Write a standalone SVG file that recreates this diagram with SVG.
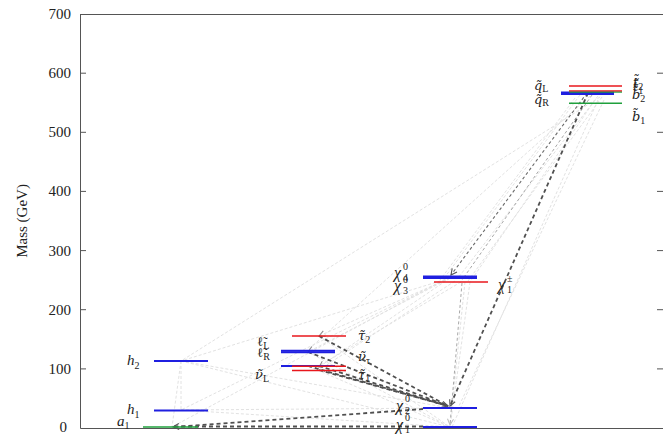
<svg xmlns="http://www.w3.org/2000/svg" width="663" height="434" viewBox="0 0 663 434">
<defs>
<marker id="ad" markerUnits="userSpaceOnUse" markerWidth="10" markerHeight="10" refX="7" refY="4" orient="auto">
<path d="M1,1 L7,4 L1,7" fill="none" stroke="#555" stroke-width="1.1"/>
</marker>
<marker id="am" markerUnits="userSpaceOnUse" markerWidth="10" markerHeight="10" refX="7" refY="4" orient="auto">
<path d="M1,1 L7,4 L1,7" fill="none" stroke="#888" stroke-width="1"/>
</marker>
<marker id="af" markerUnits="userSpaceOnUse" markerWidth="10" markerHeight="10" refX="7" refY="4" orient="auto">
<path d="M1,1 L7,4 L1,7" fill="none" stroke="#bbb" stroke-width="1"/>
</marker>
</defs>
<style>
.ax{stroke:#555;stroke-width:1;fill:none}
.tk{font-family:"Liberation Serif","DejaVu Serif",serif;font-size:15px;fill:#222;text-anchor:end}
.yl{font-family:"Liberation Serif","DejaVu Serif",serif;font-size:15px;fill:#222;text-anchor:middle}
.lb{font-family:"Liberation Serif","DejaVu Serif",serif;font-size:15px;font-style:italic;fill:#222}
.tw{font-family:"DejaVu Serif",serif;font-size:13px;font-style:italic;fill:#222}
.up{font-style:normal}
.ch{font-size:16px}
.sb{font-family:"Liberation Serif","DejaVu Serif",serif;font-size:10px;font-style:normal;fill:#222}
.b{stroke:#1f1fe0;stroke-width:2}
.r{stroke:#e8171c;stroke-width:1.6}
.g{stroke:#1fa03c;stroke-width:1.6}
.cs{stroke:#505050;stroke-width:1.8;stroke-dasharray:4 3;fill:none}
.cm{stroke:#6a6a6a;stroke-width:1.1;stroke-dasharray:3 2.5;fill:none}
.cl{stroke:#a8a8a8;stroke-width:1;stroke-dasharray:3 2.5;fill:none}
.cf{stroke:#e2e2e2;stroke-width:1;stroke-dasharray:3 2;fill:none}
</style>

<g id="axes">
<path class="ax" d="M80.5,14 V428.5 H663 M80,14.5 H663"/>
<path class="ax" d="M80,368.9 h6 M80,309.7 h6 M80,250.6 h6 M80,191.4 h6 M80,132.3 h6 M80,73.2 h6 M657,368.9 h6 M657,309.7 h6 M657,250.6 h6 M657,191.4 h6 M657,132.3 h6 M657,73.2 h6"/>
<text class="tk" x="67" y="432">0</text>
<text class="tk" x="71" y="374">100</text>
<text class="tk" x="71" y="315">200</text>
<text class="tk" x="71" y="256">300</text>
<text class="tk" x="71" y="196">400</text>
<text class="tk" x="71" y="137">500</text>
<text class="tk" x="71" y="78">600</text>
<text class="tk" x="71" y="19">700</text>
<text class="yl" transform="translate(27,221) rotate(-90)">Mass (GeV)</text>
</g>

<g id="connectors">
<path class="cf" d="M600,97 L181,361"/>
<path class="cf" d="M590,96 L308,350"/>
<path class="cf" d="M580,95 L445,277"/>
<path class="cf" d="M598,96 L458,278"/>
<path class="cf" d="M602,97 L468,281"/>
<path class="cf" d="M595,100 L470,282"/>
<path class="cf" d="M598,100 L452,427"/>
<path class="cf" d="M604,100 L458,408"/>
<path class="cf" d="M575,98 L440,280"/>
<path class="cf" d="M450,278 L181,361"/>
<path class="cf" d="M445,280 L181,410"/>
<path class="cf" d="M440,282 L172,427"/>
<path class="cf" d="M455,281 L319,370"/>
<path class="cf" d="M461,282 L319,366"/>
<path class="cf" d="M181,361 L172,427"/>
<path class="cf" d="M181,361 L181,410"/>
<path class="cf" d="M181,361 L450,408"/>
<path class="cf" d="M181,361 L450,427"/>
<path class="cf" d="M181,410 L450,427"/>
<path class="cf" d="M181,410 L450,408"/>
<path class="cf" d="M319,336 L450,427"/>
<path class="cf" d="M308,352 L450,427"/>
<path class="cf" d="M308,366 L450,427"/>
<path class="cf" d="M470,282 L450,427"/>
<path class="cf" d="M465,282 L452,406"/>
<path class="cf" d="M450,278 L319,336" marker-end="url(#am)"/>
<path class="cf" d="M450,278 L308,352" marker-end="url(#am)"/>
<path class="cf" d="M450,278 L319,367" marker-end="url(#am)"/>
<path class="cl" d="M592,95 L462,280"/>
<path class="cl" d="M462,283 L450,425" marker-end="url(#af)"/>
<path class="cm" d="M587,93 L451,275" marker-end="url(#ad)"/>
<path class="cs" d="M588,93 L450,406" marker-end="url(#ad)"/>
<path class="cs" d="M319,336 L448,406"/>
<path class="cs" d="M308,352 L448,406"/>
<path class="cs" d="M319,366 L448,406"/>
<path class="cs" d="M319,370 L448,406"/>
<path class="cs" d="M308,366 L448,406" marker-end="url(#ad)"/>
<path class="cs" d="M423,409 L173,427" marker-end="url(#ad)"/>
<path class="cs" d="M423,426.5 L173,426.5"/>
</g>

<g id="a1"><line class="g" x1="143" y1="427" x2="198" y2="427"/><text class="lb" x="117" y="426">a<tspan class="sb" dy="3">1</tspan></text></g>
<g id="h1"><line class="b" x1="154" y1="410.5" x2="208" y2="410.5"/><text class="lb" x="127" y="414">h<tspan class="sb" dy="4">1</tspan></text></g>
<g id="h2"><line class="b" x1="154" y1="361" x2="208" y2="361"/><text class="lb" x="127" y="365">h<tspan class="sb" dy="4">2</tspan></text></g>

<g id="slepL"><line class="b" x1="281" y1="350.8" x2="335" y2="350.8"/><text class="tw up" x="257" y="346">ℓ̃<tspan class="sb" dy="3">L</tspan></text></g>
<g id="slepR"><line class="b" x1="281" y1="352.2" x2="335" y2="352.2"/><text class="tw up" x="257" y="357">ℓ̃<tspan class="sb" dy="3">R</tspan></text></g>
<g id="snuL"><line class="b" x1="281" y1="366" x2="335" y2="366"/><text class="tw" x="255" y="379">ν̃<tspan class="sb" dy="3">L</tspan></text></g>
<g id="stau2"><line class="r" x1="292" y1="336" x2="346" y2="336"/><text class="tw" x="358" y="340">τ̃<tspan class="sb" dy="3">2</tspan></text></g>
<g id="snutau"><line class="r" x1="292" y1="366.3" x2="346" y2="366.3"/><text class="tw" x="358" y="361">ν̃<tspan class="sb" dy="3">τ</tspan></text></g>
<g id="stau1"><line class="r" x1="292" y1="370.5" x2="346" y2="370.5"/><text class="tw" x="358" y="379">τ̃<tspan class="sb" dy="3">1</tspan></text></g>

<g id="chi1"><line class="b" x1="423" y1="427" x2="477" y2="427"/><text class="lb ch" x="396" y="430">χ</text><text class="sb" x="405" y="421">0</text><text class="sb" x="405" y="433">1</text></g>
<g id="chi2"><line class="b" x1="423" y1="408" x2="477" y2="408"/><text class="lb ch" x="396" y="411">χ</text><text class="sb" x="405" y="402">0</text><text class="sb" x="405" y="414">2</text></g>
<g id="chi3"><line class="b" x1="423" y1="278" x2="477" y2="278"/><text class="lb ch" x="394" y="291">χ</text><text class="sb" x="403" y="283">0</text><text class="sb" x="403" y="294">3</text></g>
<g id="chi4"><line class="b" x1="423" y1="276.6" x2="477" y2="276.6"/><text class="lb ch" x="394" y="278">χ</text><text class="sb" x="403" y="270">0</text><text class="sb" x="403" y="281">4</text></g>
<g id="char1"><line class="r" x1="434" y1="282" x2="488" y2="282"/><text class="lb ch" x="498" y="290">χ</text><text class="sb" x="507" y="282">±</text><text class="sb" x="507" y="293">1</text></g>

<g id="sqL"><line class="b" x1="561" y1="92.6" x2="614" y2="92.6"/><text class="tw" x="534" y="90">q̃<tspan class="sb" dy="2">L</tspan></text></g>
<g id="sqR"><line class="b" x1="561" y1="94" x2="614" y2="94"/><text class="tw" x="534" y="104">q̃<tspan class="sb" dy="2">R</tspan></text></g>
<g id="st2"><line class="r" x1="569" y1="86" x2="622" y2="86"/><text class="tw" x="633" y="87">t̃<tspan class="sb" dy="3">2</tspan></text></g>
<g id="st1"><line class="r" x1="569" y1="91" x2="622" y2="91"/><text class="tw" x="633" y="91">t̃<tspan class="sb" dy="3">1</tspan></text></g>
<g id="sb2"><line class="g" x1="569" y1="92.3" x2="622" y2="92.3" opacity="0.7"/><text class="tw" x="632" y="99">b̃<tspan class="sb" dy="3">2</tspan></text></g>
<g id="sb1"><line class="g" x1="569" y1="103.3" x2="622" y2="103.3"/><text class="tw" x="632" y="121">b̃<tspan class="sb" dy="3">1</tspan></text></g>
</svg>
